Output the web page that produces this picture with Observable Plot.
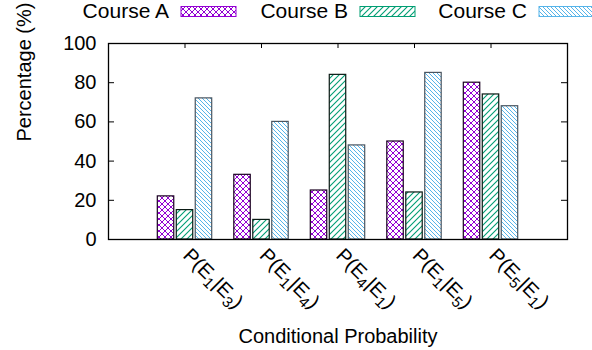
<!DOCTYPE html>
<html>
<head>
<meta charset="utf-8">
<script src="https://cdn.jsdelivr.net/npm/d3@7"></script>
<script src="https://cdn.jsdelivr.net/npm/@observablehq/plot@0.6"></script>
<style>
  html, body { margin: 0; padding: 0; background: #fff; }
</style>
</head>
<body>
<div id="chart"></div>
<script>
// ---- data ----
const categories = ["P(E_1|E_3)", "P(E_1|E_4)", "P(E_4|E_1)", "P(E_1|E_5)", "P(E_5|E_1)"];
const seriesNames = ["Course A", "Course B", "Course C"];
const courseA = [22, 33, 25, 50, 80];
const courseB = [15, 10, 84, 24, 74];
const courseC = [72, 60, 48, 85, 68];
const yTicks = [0, 20, 40, 60, 80, 100];

// ---- layout / style ----
const W = 592, H = 350;
const mL = 108, mR = 25, mT = 43, mB = 111;
const plotW = W - mL - mR, plotH = H - mT - mB;
const barWidth = 0.215;
const groupOffsets = [-0.248, 0, 0.248];
const patternIds = ["hatchA", "hatchB", "hatchC"];
const lineColors = ["#9400D3", "#009E73", "#56B4E9"];
const barStrokes = ["#1a0020", "#0a1a14", "#4a5560"];
const font = "'Liberation Sans', Arial, Helvetica, sans-serif";

const seriesValues = [courseA, courseB, courseC];
const idx = categories.map((_, i) => i);

const barMarks = seriesValues.map((vals, s) => {
  const rows = vals.map((v, i) => ({i, v}));
  return Plot.rect(rows, {
    x1: d => d.i + groupOffsets[s] - barWidth / 2,
    x2: d => d.i + groupOffsets[s] + barWidth / 2,
    y1: 0,
    y2: d => d.v,
    fill: `url(#${patternIds[s]})`,
    stroke: barStrokes[s],
    strokeWidth: 1.2
  });
});

const inner = yTicks.filter(t => t > 0 && t < 100);

const chart = Plot.plot({
  width: W,
  height: H,
  marginLeft: mL, marginRight: mR, marginTop: mT, marginBottom: mB,
  style: {fontFamily: font, fontSize: "20px", color: "black", background: "white"},
  x: {type: "linear", domain: [-1, 5], axis: null},
  y: {domain: [0, 100], axis: null},
  marks: [
    Plot.tickX(idx, {x: d => d, insetTop: plotH - 5, stroke: "black", strokeWidth: 1}),
    ...barMarks,
    Plot.tickY(inner, {y: d => d, insetRight: plotW - 6, stroke: "black", strokeWidth: 1}),
    Plot.tickY(inner, {y: d => d, insetLeft: plotW - 6, stroke: "black", strokeWidth: 1}),
    Plot.tickX(idx, {x: d => d, insetBottom: plotH - 5, stroke: "black", strokeWidth: 1}),
    Plot.frame({stroke: "black", strokeWidth: 1.3}),
    Plot.axisY(yTicks, {tickSize: 0, tickPadding: 12, fontSize: 20, label: null, fill: "black"}),
    Plot.text(idx, {
      x: d => d,
      text: d => categories[d],
      frameAnchor: "bottom",
      rotate: 45,
      textAnchor: "start",
      lineAnchor: "bottom",
      dx: -3,
      dy: 17,
      fontSize: 20,
      fill: "black"
    }),
    Plot.text(["Percentage (%)"], {frameAnchor: "left", dx: -84, rotate: -90, fontSize: 20, fill: "black"}),
    Plot.text(["Conditional Probability"], {frameAnchor: "bottom", dy: 103, fontSize: 20, fill: "black"})
  ]
});

const svg = d3.select(chart);
const defs = svg.insert("defs", ":first-child");
function pattern(id, size, color, paths, sw) {
  const p = defs.append("pattern").attr("id", id).attr("patternUnits", "userSpaceOnUse")
    .attr("width", size).attr("height", size);
  p.append("rect").attr("width", size).attr("height", size).attr("fill", "white");
  p.append("path").attr("d", paths).attr("stroke", color).attr("stroke-width", sw).attr("fill", "none");
}
pattern("hatchA", 6, lineColors[0], "M0,0L6,6M6,0L0,6", 1);
pattern("hatchB", 6, lineColors[1], "M0,6L6,0M-1,1L1,-1M5,7L7,5", 1.1);
pattern("hatchC", 4, lineColors[2], "M0,0L4,4M-1,3L1,5M3,-1L5,1", 1);

// subscripts in category labels
svg.selectAll("text").filter(function() { return this.textContent.includes("_"); }).each(function() {
  const t = d3.select(this);
  const label = this.textContent;
  t.selectAll("*").remove();
  t.text(null);
  const parts = label.split(/_(\d)/);
  parts.forEach((part, k) => {
    if (!part) return;
    if (k % 2 === 1) {
      t.append("tspan").attr("font-size", 15).attr("dy", 5).text(part);
    } else {
      const ts = t.append("tspan").text(part);
      if (k > 0) ts.attr("dy", -5);
    }
  });
});

// legend
const lg = svg.append("g").attr("font-family", font).attr("font-size", 21);
seriesNames.forEach((name, s) => {
  const x0 = 169 + s * 179;
  lg.append("text").attr("x", x0).attr("y", 17.5).attr("text-anchor", "end").attr("fill", "black").text(name);
  lg.append("rect").attr("x", x0 + 12).attr("y", 6.5).attr("width", 55).attr("height", 10)
    .attr("fill", `url(#${patternIds[s]})`).attr("stroke", lineColors[s]).attr("stroke-width", 1);
});

document.getElementById("chart").appendChild(chart);
</script>
</body>
</html>
